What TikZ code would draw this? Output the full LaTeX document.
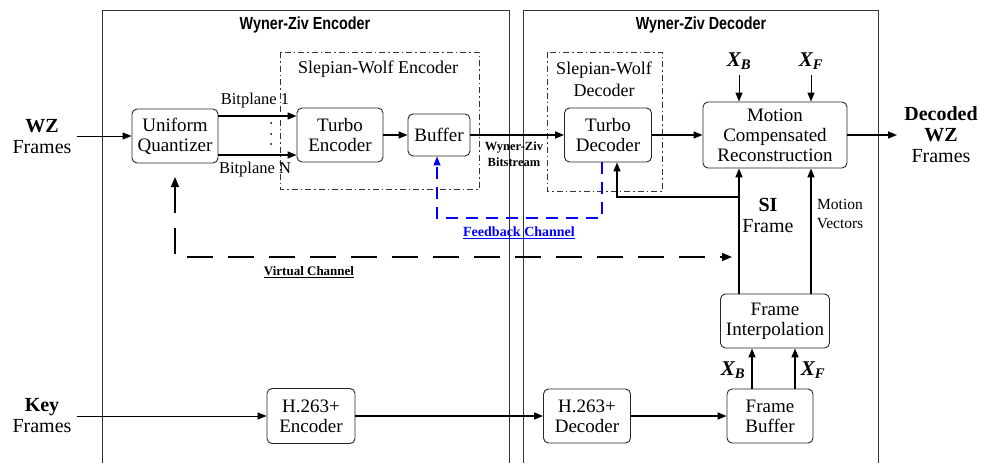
\documentclass[tikz,border=0pt]{standalone}
\usepackage{fontspec}
\setmainfont{Liberation Serif}
\setsansfont{Liberation Sans}
\usetikzlibrary{arrows.meta}
\definecolor{fbblue}{RGB}{0,0,255}
\begin{document}
\begin{tikzpicture}[x=1pt,y=-1pt,
  box/.style={draw=black!85, line width=0.9pt, rounded corners=5pt, align=center,
    font=\fontsize{19}{20}\selectfont, inner sep=0pt},
  arr/.style={line width=1.5pt, -{Triangle[length=9pt,width=7pt]}},
  outer/.style={draw=black!80, line width=0.8pt},
  swbox/.style={draw=black!80, line width=0.8pt, dash pattern=on 6pt off 3pt on 1.5pt off 3pt},
  lbl/.style={align=center, font=\fontsize{19}{20}\selectfont, inner sep=0pt},
  side/.style={align=center, font=\fontsize{20}{21}\selectfont, inner sep=0pt},
  xlbl/.style={font=\fontsize{21}{22}\selectfont\bfseries\itshape, inner sep=0pt},
  title/.style={font=\sffamily\bfseries\fontsize{17.5}{18}\selectfont, inner sep=0pt},
  vch/.style={line width=1.6pt, dash pattern=on 26pt off 15pt},
  fb/.style={draw=fbblue, line width=1.3pt, dash pattern=on 12pt off 8pt},
]
\useasboundingbox (0,0) rectangle (981,463);

% outer boxes
\draw[outer] (102,463) -- (102,10) -- (509,10) -- (509,463);
\draw[outer] (523,463) -- (523,10) -- (878,10) -- (878,463);
\node[title] (tenc) at (305,25) {\scalebox{0.82}[1]{Wyner-Ziv Encoder}};
\node[title] (tdec) at (701,25) {\scalebox{0.82}[1]{Wyner-Ziv Decoder}};

% Slepian-Wolf boxes
\draw[swbox] (280,52) rectangle (479,189);
\node[lbl, font=\fontsize{18}{20}\selectfont] (swe) at (378,69) {Slepian-Wolf Encoder};
\draw[swbox] (547,52) rectangle (662,191);
\node[lbl, font=\fontsize{18}{22}\selectfont] (swd) at (604,79) {Slepian-Wolf\\Decoder};

% blocks
\node[box, minimum width=86pt, minimum height=54pt] (uq) at (175,136) {Uniform\\Quantizer};
\node[box, minimum width=86pt, minimum height=54pt] (te) at (340,135) {Turbo\\Encoder};
\node[box, minimum width=62pt, minimum height=42pt] (buf) at (439,135) {Buffer};
\node[box, minimum width=87pt, minimum height=54pt] (td) at (608,135) {Turbo\\Decoder};
\node[box, minimum width=144pt, minimum height=66pt] (mcr) at (775,135) {Motion\\Compensated\\Reconstruction};
\node[box, minimum width=109pt, minimum height=54pt] (fi) at (775,321) {Frame\\Interpolation};
\node[box, minimum width=86pt, minimum height=54pt] (fbuf) at (770,416) {Frame\\Buffer};
\node[box, minimum width=87pt, minimum height=54pt] (hd) at (587,416) {H.263+\\Decoder};
\node[box, minimum width=88pt, minimum height=55pt] (he) at (311,416) {H.263+\\Encoder};

% side labels
\node[side] (wz) at (42,137) {\textbf{WZ}\\Frames};
\node[side] (key) at (42,416) {\textbf{Key}\\Frames};
\node[side] (dwz) at (941,135) {\textbf{Decoded}\\\textbf{WZ}\\Frames};

% column coordinates
\coordinate (cB) at (739,0);
\coordinate (cF) at (811,0);
\coordinate (cS) at (617,0);
\coordinate (cFB) at (602,0);
\coordinate (cBF) at (437,0);
\coordinate (cBB) at (752,0);
\coordinate (cFF) at (795,0);
\coordinate (wzin) at (77,136);
\coordinate (keyin) at (77,416);
\coordinate (dout) at (897,135);
\coordinate (xbtop) at (739,75);
\coordinate (xftop) at (811,75);
\coordinate (sibr) at (739,197);
\coordinate (fbcorner) at (602,218);
\coordinate (vcA) at (175,177);
\coordinate (vcC) at (175,257);
\coordinate (vcB) at (732,257);

% encoder path
\draw[arr, line width=1pt] (wzin) -- (uq.west);
\draw[arr] (uq.east |- 0,116) -- (te.west |- 0,116);
\draw[arr] (uq.east |- 0,155) -- (te.west |- 0,155);
\node[lbl, font=\fontsize{16.5}{18}\selectfont] (bp1) at (255,101) {Bitplane 1};
\node[lbl, font=\fontsize{16.5}{18}\selectfont] (bpn) at (255,170) {Bitplane N};
\fill (271,123) circle (1pt) (271,134) circle (1pt) (271,144) circle (1pt);
\draw[arr] (te.east) -- (buf.west);
\draw[arr] (buf.east) -- (td.west);
\node[align=center, inner sep=0pt, font=\bfseries\fontsize{12.5}{16}\selectfont] (wzb) at (514,154) {Wyner-Ziv\\Bitstream};

% decoder path
\draw[arr] (td.east) -- (mcr.west);
\draw[arr] (mcr.east) -- (dout);
\node[xlbl] (xb1) at (739,61) {X\textsubscript{B}};
\node[xlbl] (xf1) at (811,61) {X\textsubscript{F}};
\draw[arr, line width=1pt] (xbtop) -- (cB |- mcr.north);
\draw[arr, line width=1pt] (xftop) -- (cF |- mcr.north);
\draw[arr] (cB |- fi.north) -- (cB |- mcr.south);
\draw[arr] (cF |- fi.north) -- (cF |- mcr.south);
\draw[arr] (sibr) -| (cS |- td.south);
\node[lbl, font=\fontsize{20}{21}\selectfont] (si) at (768,215) {\textbf{SI}\\Frame};
\node[lbl, font=\fontsize{15.5}{19}\selectfont] (mv) at (840,214) {Motion\\Vectors};

% bottom chain
\draw[arr, line width=1pt] (keyin) -- (he.west);
\draw[arr] (he.east) -- (hd.west);
\draw[arr] (hd.east) -- (fbuf.west);
\draw[arr] (cBB |- fbuf.north) -- (cBB |- fi.south);
\draw[arr] (cFF |- fbuf.north) -- (cFF |- fi.south);
\node[xlbl] (xb2) at (733,370) {X\textsubscript{B}};
\node[xlbl] (xf2) at (813,370) {X\textsubscript{F}};

% feedback channel
\draw[fb, -{Triangle[length=9pt,width=7pt]}] (cFB |- td.south) -- (fbcorner) -| (cBF |- buf.south);
\node[text=fbblue, inner sep=0pt, font=\bfseries\fontsize{14}{16}\selectfont] (fbl) at (519,233) {\underline{Feedback Channel}};

% virtual channel
\draw[vch, {Triangle[length=10pt,width=8pt]}-{Triangle[length=10pt,width=8pt]}] (vcA) -- (vcC) -- (vcB);
\node[inner sep=0pt, font=\bfseries\fontsize{13}{15}\selectfont] (vcl) at (309,272) {\underline{Virtual Channel}};
\end{tikzpicture}
\end{document}
